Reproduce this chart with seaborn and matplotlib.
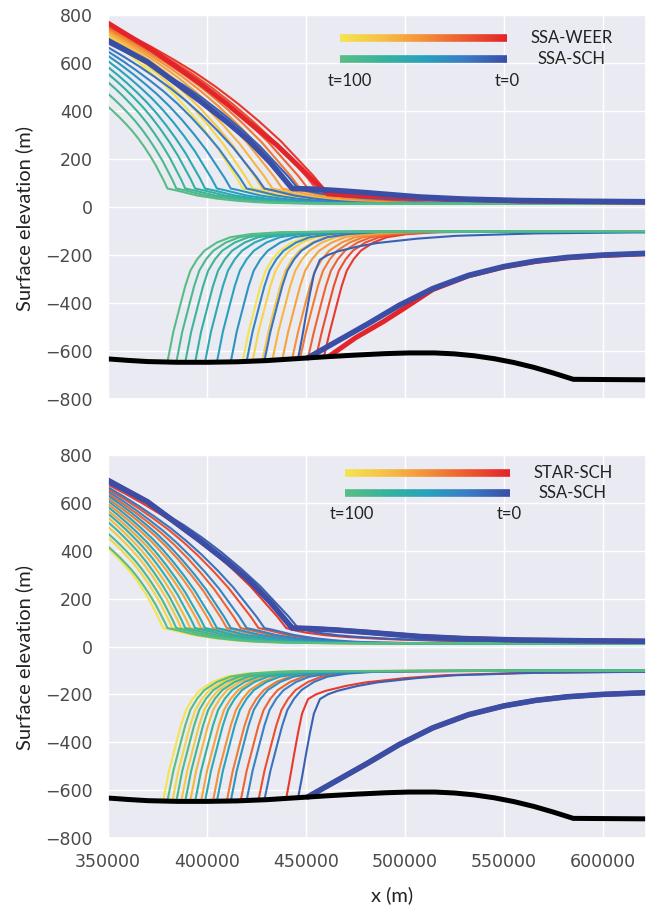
import numpy as np
import pandas as pd
import seaborn as sns
import matplotlib.pyplot as plt
from matplotlib.colors import LinearSegmentedColormap
from matplotlib.collections import LineCollection

# ---- data ----
times = [10, 20, 30, 40, 50, 60, 70, 80, 90, 100]

# bed topography
bed_x = [350000, 360000, 370000, 385000, 400000, 415000, 430000, 445000, 460000, 475000,
         490000, 502000, 515000, 525000, 535000, 545000, 555000, 565000, 575000, 585000,
         621700]
bed_z = [-633, -639, -644, -647, -647, -645, -640, -632, -624, -617, -611, -608, -608,
         -612, -620, -632, -648, -668, -692, -718, -720]

# initial state (t=0), SCH friction law (shared by both panels)
init_sch_up_x = [350000, 370000, 396000, 410000, 421000, 432000, 443000, 452000, 465000,
                 480000, 495000, 507000, 530000, 558000, 590000, 621700]
init_sch_up_z = [694, 604, 445, 355, 278, 185, 77, 75, 69, 60, 50, 42, 33, 27, 24, 22]
init_sch_lo_x = [451000, 466000, 481000, 497000, 514000, 532000, 550000, 566000, 582000,
                 600000, 621700]
init_sch_lo_z = [-628, -558, -488, -410, -340, -285, -248, -225, -210, -200, -193]

# initial state (t=0), WEER friction law
init_weer_up_x = [350000, 373000, 396500, 410000, 421700, 435000, 447000, 455000, 461000,
                  470000, 490000, 520000, 558000, 621700]
init_weer_up_z = [766, 650, 515, 430, 349, 260, 165, 100, 55, 50, 44, 34, 25, 20]
init_weer_lo_x = [462000, 475000, 489000, 500000, 514000, 532000, 550000, 566000, 582000,
                  600000, 621700]
init_weer_lo_z = [-620, -545, -478, -420, -344, -287, -250, -227, -212, -202, -195]

# surface at x=350 km and grounding-line position, t=10..100
sch_h0 = [682, 665, 648, 630, 608, 583, 555, 520, 472, 418]
sch_xg = [446000, 429000, 420000, 412000, 405000, 399000, 394000, 389000, 384500, 380000]
sch_shelf = [1, 0, 0, 0, 0, 0, 0, 0, 0, 0]

weer_h0 = [760, 754, 748, 742, 736, 730, 723, 716, 708, 700]
weer_xg = [459000, 455000, 451000, 447000, 443000, 438000, 433000, 428000, 423000, 418000]
weer_shelf = [0, 0, 0, 0, 0, 0, 0, 0, 0, 0]

star_h0 = [676, 657, 638, 618, 595, 568, 538, 500, 455, 410]
star_xg = [440000, 426000, 417000, 410000, 403000, 397000, 391500, 387000, 382500, 377800]
star_shelf = [1, 0, 0, 0, 0, 0, 0, 0, 0, 0]

# profile shapes
sheet_frac = [0, 0.1, 0.2, 0.3, 0.4, 0.5, 0.6, 0.7, 0.8, 0.9, 0.95, 1.0]
sheet_shape = [1, 0.935, 0.865, 0.79, 0.71, 0.62, 0.52, 0.41, 0.29, 0.15, 0.08, 0]
kink_z = 77
shelf_up_off = [[0, 4000, 8000, 15000, 25000, 35000, 45000, 60000, 80000, 300000],
                [0, 5000, 10000, 20000, 30000, 45000, 60000, 90000, 120000, 300000]]
shelf_up_z = [[77, 70, 62, 48, 35, 26, 20, 16, 14, 12],
              [77, 66, 58, 47, 40, 33, 28, 22, 18, 14]]
shelf_lo_off = [[3000, 6600, 9000, 11600, 15000, 18700, 25000, 31800, 42000, 57000, 80000,
                 120000, 300000],
                [2000, 4000, 6000, 8000, 11000, 15000, 20000, 30000, 40000, 60000, 80000,
                 120000, 170000, 300000]]
shelf_lo_z = [[-520, -405, -330, -265, -218, -182, -148, -126, -113, -105, -103, -102, -100],
              [-545, -450, -360, -280, -220, -200, -185, -165, -150, -132, -120, -110, -106,
               -103]]

XMIN, XMAX = 350000, 621700


def clip(xs, zs):
    xs, zs = np.asarray(xs, float), np.asarray(zs, float)
    keep = xs < XMAX
    return np.r_[xs[keep], XMAX], np.r_[zs[keep], np.interp(XMAX, xs, zs)]


def profiles(h0s, xgs, shelves):
    rows = []
    for t, h0, xg, k in zip(times, h0s, xgs, shelves):
        ux = XMIN + np.array(sheet_frac) * (xg - XMIN)
        uz = kink_z + (h0 - kink_z) * np.array(sheet_shape)
        ux = np.r_[ux, xg + np.array(shelf_up_off[k][1:])]
        uz = np.r_[uz, np.array(shelf_up_z[k][1:])]
        lx = np.r_[xg, xg + np.array(shelf_lo_off[k])]
        lz = np.r_[np.interp(xg, bed_x, bed_z), np.array(shelf_lo_z[k])]
        for part, xs, zs in (("up", ux, uz), ("lo", lx, lz)):
            xs, zs = clip(xs, zs)
            for x, z in zip(xs, zs):
                rows.append({"x": x, "z": z, "t": t, "line": f"{t}-{part}"})
    return pd.DataFrame(rows)


def init_df(ux, uz, lx, lz):
    return pd.concat([
        pd.DataFrame({"x": ux, "z": uz, "line": "up"}),
        pd.DataFrame({"x": lx, "z": lz, "line": "lo"}),
    ])


warm = LinearSegmentedColormap.from_list(
    "warm", ["#e3242b", "#ec5a2f", "#f39038", "#f6bf45", "#f4e44e"])
cool = LinearSegmentedColormap.from_list(
    "cool", ["#3a4ea6", "#3a7cc4", "#27a2bd", "#36b39c", "#58bd84"])
warm_t0 = warm(0.0)
cool_t0 = cool(0.0)

sns.set_theme(style="darkgrid")
plt.rcParams["font.family"] = ["DejaVu Sans"]

fig = plt.figure(figsize=(6.46, 9.16), dpi=100)
ax1 = fig.add_axes([108 / 646, 1 - 399 / 916, 538 / 646, 384 / 916])
ax2 = fig.add_axes([108 / 646, 1 - 838 / 916, 538 / 646, 383 / 916])

panels = [
    (ax1, (weer_h0, weer_xg, weer_shelf),
     (init_weer_up_x, init_weer_up_z, init_weer_lo_x, init_weer_lo_z), "SSA-WEER"),
    (ax2, (star_h0, star_xg, star_shelf),
     (init_sch_up_x, init_sch_up_z, init_sch_lo_x, init_sch_lo_z), "STAR-SCH"),
]

for ax, warm_run, warm_init, warm_name in panels:
    sns.lineplot(data=profiles(*warm_run), x="x", y="z", hue="t", units="line",
                 estimator=None, sort=False, palette=warm, hue_norm=(0, 100),
                 lw=1.5, legend=False, ax=ax)
    sns.lineplot(data=profiles(sch_h0, sch_xg, sch_shelf), x="x", y="z", hue="t",
                 units="line", estimator=None, sort=False, palette=cool,
                 hue_norm=(0, 100), lw=1.5, legend=False, ax=ax)
    sns.lineplot(data=init_df(*warm_init), x="x", y="z", units="line",
                 estimator=None, sort=False, color=warm_t0, lw=3.6, ax=ax)
    sns.lineplot(data=init_df(init_sch_up_x, init_sch_up_z, init_sch_lo_x, init_sch_lo_z),
                 x="x", y="z", units="line", estimator=None, sort=False,
                 color=cool_t0, lw=4.0, ax=ax)
    sns.lineplot(x=bed_x, y=bed_z, color="black", lw=3.6, estimator=None,
                 sort=False, ax=ax)

    ax.set_xlim(XMIN, XMAX)
    ax.set_ylim(-800, 800)
    ax.set_yticks(np.arange(-800, 801, 200))
    ax.set_xticks(np.arange(350000, 600001, 50000))
    ax.tick_params(labelsize=12.5, labelcolor="#4a4a4a", pad=5)
    ax.set_ylabel("Surface elevation (m)", fontsize=14.5, family="Lato", color="#222222")
    ax.yaxis.set_label_coords(-0.139, 0.47)
    ax.set_xlabel("")

    # gradient legend
    top = 0.940 if ax is ax1 else 0.953
    gap = 0.055 if ax is ax1 else 0.052
    x0, x1 = (0.431, 0.742) if ax is ax1 else (0.440, 0.747)
    n = 120
    xs = np.linspace(x0, x1, n + 1)
    for y, cmap in ((top, warm), (top - gap, cool)):
        segs = [[(xs[i], y), (xs[i + 1], y)] for i in range(n)]
        lc = LineCollection(segs, colors=cmap(np.linspace(1, 0, n)), lw=5.5,
                            transform=ax.transAxes, capstyle="butt", zorder=5)
        ax.add_collection(lc)
    tx = 0.862 if ax is ax1 else 0.864
    ax.text(tx, top, warm_name, transform=ax.transAxes, ha="center", va="center",
            fontsize=12, family="Lato", color="#222222")
    ax.text(tx, top - gap, "SSA-SCH", transform=ax.transAxes, ha="center", va="center",
            fontsize=12, family="Lato", color="#222222")
    ax.text(0.45 if ax is ax1 else 0.453, top - 2.05 * gap, "t=100", transform=ax.transAxes,
            ha="center", va="center", fontsize=12, family="Lato", color="#222222")
    ax.text(0.742 if ax is ax1 else 0.745, top - 2.05 * gap, "t=0", transform=ax.transAxes,
            ha="center", va="center", fontsize=12, family="Lato", color="#222222")

ax1.tick_params(axis="x", labelbottom=False)
ax2.set_xticklabels([str(v) for v in range(350000, 600001, 50000)])
ax2.set_xlabel("x (m)", fontsize=14.5, family="Lato", color="#222222")
ax2.xaxis.set_label_coords((392 - 108) / 538, -0.125)

fig.savefig("out.png", dpi=100)
